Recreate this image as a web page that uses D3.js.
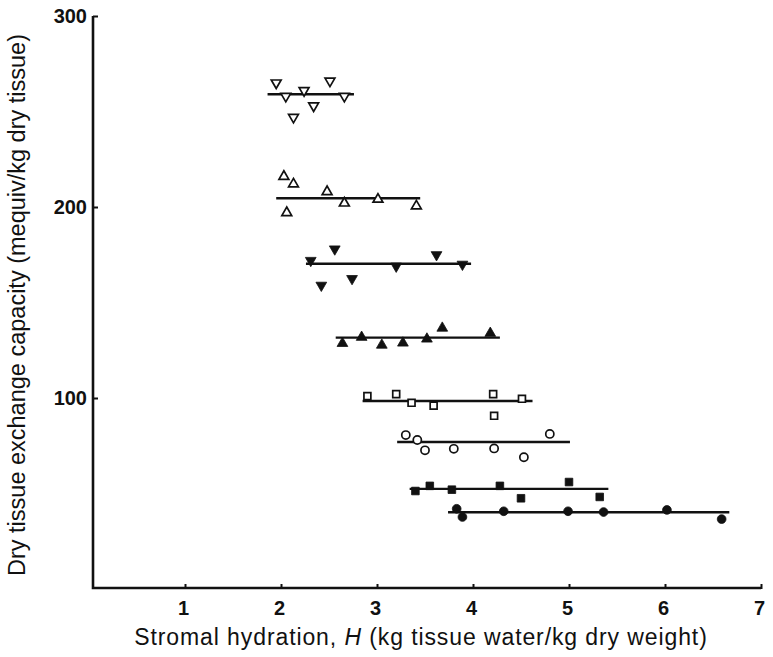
<!DOCTYPE html>
<html>
<head>
<meta charset="utf-8">
<script src="https://cdn.jsdelivr.net/npm/d3@7"></script>
<style>
  body { margin: 0; background: #fff; }
  text { font-family: "Liberation Sans", Arial, Helvetica, sans-serif; fill: #111; }
</style>
</head>
<body>
<div id="chart"></div>
<script>
// tick labels
const xTicks = [1, 2, 3, 4, 5, 6, 7];
const yTicks = [100, 200, 300];

// stromal hydration H / exchange capacity, one pair per group
const hOpenDown = [1.95, 2.05, 2.24, 2.13, 2.34, 2.51, 2.66];
const cOpenDown = [265, 258, 261, 247, 253, 266, 258];
const hOpenUp = [2.03, 2.13, 2.06, 2.48, 2.66, 3.01, 3.41];
const cOpenUp = [216, 212, 197, 208, 202, 204, 200.5];
const hFillDown = [2.31, 2.56, 2.42, 2.74, 3.20, 3.62, 3.89];
const cFillDown = [172, 178, 159, 162.5, 169, 175, 170];
const hFillUp = [2.64, 2.84, 3.05, 3.27, 3.52, 3.68, 4.18];
const cFillUp = [128.6, 131.8, 127.7, 128.8, 130.9, 136.6, 133.9];
const hOpenSq = [2.90, 3.20, 3.36, 3.59, 4.21, 4.22, 4.51];
const cOpenSq = [101, 102, 97.5, 96, 102, 90.7, 99.6];
const hOpenCirc = [3.30, 3.42, 3.50, 3.80, 4.22, 4.53, 4.80];
const cOpenCirc = [80.6, 78, 72.6, 73.4, 73.6, 69, 81.2];
const hFillSq = [3.40, 3.55, 3.78, 4.28, 4.50, 5.00, 5.32];
const cFillSq = [51.3, 54, 52, 54, 47.5, 56, 48.2];
const hFillCirc = [3.83, 3.89, 4.32, 4.99, 5.36, 6.02, 6.59];
const cFillCirc = [42, 37.7, 40.7, 40.7, 40.3, 41.4, 36.6];

// horizontal mean lines: start H, end H, level
const fitStart = [1.86, 1.95, 2.26, 2.57, 2.85, 3.21, 3.34, 3.74];
const fitEnd = [2.76, 3.45, 3.98, 4.28, 4.62, 5.01, 5.41, 6.67];
const fitLevel = [259, 204.6, 170.3, 131.6, 98.4, 77, 52.4, 40.2];

const width = 773;
const height = 657;

const groups = [
  { h: hOpenDown, c: cOpenDown, type: d3.symbolTriangle, rot: 180, filled: false, size: 42 },
  { h: hOpenUp, c: cOpenUp, type: d3.symbolTriangle, rot: 0, filled: false, size: 42 },
  { h: hFillDown, c: cFillDown, type: d3.symbolTriangle, rot: 180, filled: true, size: 50 },
  { h: hFillUp, c: cFillUp, type: d3.symbolTriangle, rot: 0, filled: true, size: 50 },
  { h: hOpenSq, c: cOpenSq, type: d3.symbolSquare, rot: 0, filled: false, size: 48 },
  { h: hOpenCirc, c: cOpenCirc, type: d3.symbolCircle, rot: 0, filled: false, size: 52 },
  { h: hFillSq, c: cFillSq, type: d3.symbolSquare, rot: 0, filled: true, size: 58 },
  { h: hFillCirc, c: cFillCirc, type: d3.symbolCircle, rot: 0, filled: true, size: 60 }
];

const x = d3.scaleLinear().domain([0, 7]).range([89, 761]);
const y = d3.scaleLinear().domain([0, 300]).range([589, 16]);

const svg = d3.select('#chart')
  .append('svg')
  .attr('width', width)
  .attr('height', height);

const axisLeftX = 93;

// axes
const xAxis = d3.axisBottom(x).tickValues(xTicks).tickFormat(d3.format('d'))
  .tickSize(-5).tickSizeOuter(0).tickPadding(12);
const gx = svg.append('g')
  .attr('transform', `translate(0, ${y(0)})`)
  .call(xAxis);
gx.select('.domain').remove();
gx.selectAll('.tick line').attr('stroke', '#111').attr('stroke-width', 2);
gx.selectAll('.tick text').attr('font-size', 20).attr('font-weight', 'bold').attr('dx', -2);

const yAxis = d3.axisLeft(y).tickValues(yTicks).tickFormat(d3.format('d'))
  .tickSize(-5).tickSizeOuter(0).tickPadding(6);
const gy = svg.append('g')
  .attr('transform', `translate(${axisLeftX}, 0)`)
  .call(yAxis);
gy.select('.domain').remove();
gy.selectAll('.tick line').attr('stroke', '#111').attr('stroke-width', 2);
gy.selectAll('.tick text').attr('font-size', 20).attr('font-weight', 'bold');

svg.append('path')
  .attr('d', `M${axisLeftX},${y(300)}V${y(0) - 1}H${x(7)}`)
  .attr('fill', 'none')
  .attr('stroke', '#111')
  .attr('stroke-width', 2.6);

// axis titles
const xt = svg.append('text')
  .attr('x', 421)
  .attr('y', 645)
  .attr('text-anchor', 'middle')
  .attr('font-size', 23)
  .attr('letter-spacing', 0.9);
xt.append('tspan').text('Stromal hydration, ');
xt.append('tspan').attr('font-style', 'italic').text('H');
xt.append('tspan').text(' (kg tissue water/kg dry weight)');

svg.append('text')
  .attr('transform', `translate(25, ${305}) rotate(-90)`)
  .attr('text-anchor', 'middle')
  .attr('font-size', 23.5)
  .text('Dry tissue exchange capacity (mequiv/kg dry tissue)');

// mean lines
svg.selectAll('.fit')
  .data(fitLevel)
  .enter()
  .append('line')
  .attr('class', 'fit')
  .attr('x1', (d, i) => x(fitStart[i]))
  .attr('x2', (d, i) => x(fitEnd[i]))
  .attr('y1', d => y(d))
  .attr('y2', d => y(d))
  .attr('stroke', '#111')
  .attr('stroke-width', 2.4);

// points
groups.forEach(g => {
  const sym = d3.symbol().type(g.type).size(g.size);
  svg.append('g')
    .selectAll('path')
    .data(g.h)
    .enter()
    .append('path')
    .attr('d', sym)
    .attr('transform', (d, i) => `translate(${x(d)}, ${y(g.c[i])}) rotate(${g.rot})`)
    .attr('fill', g.filled ? '#111' : '#fff')
    .attr('stroke', '#111')
    .attr('stroke-width', g.filled ? 0.8 : 1.7);
});
</script>
</body>
</html>
